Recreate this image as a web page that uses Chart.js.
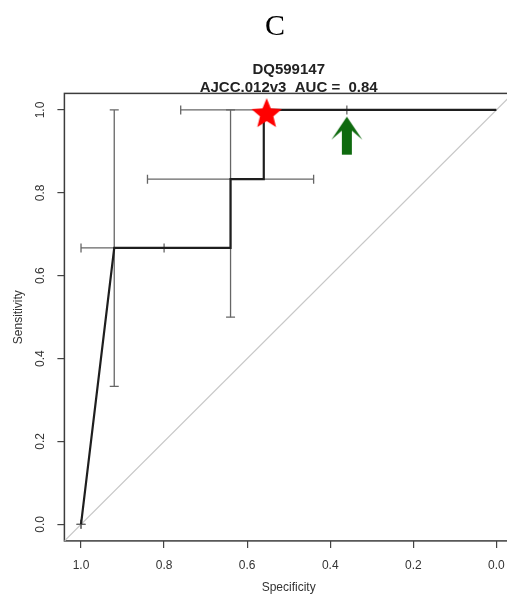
<!DOCTYPE html>
<html>
<head>
<meta charset="utf-8">
<title>DQ599147 ROC</title>
<script src="https://cdn.jsdelivr.net/npm/chart.js"></script>
<style>
  html, body { margin: 0; padding: 0; background: #fff; }
  #wrap { width: 507px; height: 600px; overflow: hidden; }
  canvas { display: block; }
</style>
</head>
<body>
<div id="wrap"><canvas id="rocChart" width="520" height="600"></canvas></div>
<script>
"use strict";

// ROC curve: specificity / sensitivity pairs
const rocSpec = [1.0, 0.92, 0.64, 0.64, 0.56, 0.56, 0.0];
const rocSens = [0.0, 0.667, 0.667, 0.833, 0.833, 1.0, 1.0];

// confidence intervals at each threshold point
const ciSpec = [1.0, 0.92, 0.64, 0.56];
const ciSens = [0.0, 0.667, 0.833, 1.0];
const seLow  = [0.0, 0.333, 0.5, 1.0];
const seHigh = [0.0, 1.0, 1.0, 1.0];
const spLow  = [1.0, 0.8, 0.44, 0.36];
const spHigh = [1.0, 1.0, 0.84, 0.76];

// markers
const bestPoint = {x: 0.553, y: 0.99};
const arrowPoint = {x: 0.36, y: 0.938};

const xTicks = [1.0, 0.8, 0.6, 0.4, 0.2, 0.0];
const yTicks = [0.0, 0.2, 0.4, 0.6, 0.8, 1.0];
const axisMin = -0.04;
const axisMax = 1.04;

const panelLabel = 'C';
const titleLines = ['DQ599147', 'AJCC.012v3  AUC =  0.84'];

const fontFamily = '"Liberation Sans", Arial, Helvetica, sans-serif';

const makeStar = (r, color) => {
  const c = document.createElement('canvas');
  const size = Math.ceil(r * 2) + 2;
  c.width = size;
  c.height = size;
  const g = c.getContext('2d');
  g.translate(size / 2, size / 2);
  g.beginPath();
  for (let i = 0; i < 10; i++) {
    const rad = i % 2 === 0 ? r : r * 0.44;
    const a = -Math.PI / 2 + i * Math.PI / 5;
    g.lineTo(rad * Math.cos(a), rad * Math.sin(a));
  }
  g.closePath();
  g.fillStyle = color;
  g.fill();
  return c;
};

const makeArrow = (color) => {
  const c = document.createElement('canvas');
  c.width = 32;
  c.height = 40;
  const g = c.getContext('2d');
  g.beginPath();
  g.moveTo(16, 1);
  g.lineTo(31.5, 24);
  g.lineTo(21, 15);
  g.lineTo(21, 39);
  g.lineTo(11, 39);
  g.lineTo(11, 15);
  g.lineTo(0.5, 24);
  g.closePath();
  g.fillStyle = color;
  g.fill();
  return c;
};

// box around plot region + titles
const frameAndTitles = {
  id: 'frameAndTitles',
  beforeDatasetsDraw(chart) {
    const {ctx, chartArea: a} = chart;
    ctx.save();
    ctx.strokeStyle = '#3c3c3c';
    ctx.lineWidth = 1.5;
    ctx.strokeRect(a.left, a.top, a.right - a.left, a.bottom - a.top);
    ctx.restore();
  },
  afterDraw(chart) {
    const {ctx, chartArea: a} = chart;
    const mid = (a.left + a.right) / 2;
    ctx.save();
    ctx.textAlign = 'center';
    ctx.textBaseline = 'alphabetic';
    ctx.fillStyle = '#000';
    ctx.font = '30px "Liberation Serif", "Times New Roman", serif';
    ctx.fillText(panelLabel, 275, 35);
    ctx.fillStyle = '#222';
    ctx.font = 'bold 15px ' + fontFamily;
    ctx.fillText(titleLines[0], mid, 74);
    ctx.fillText(titleLines[1], mid, 91.5);
    ctx.restore();
  }
};

const lineSet = (data, color, width, extra) => Object.assign({
  data: data,
  showLine: true,
  borderColor: color,
  borderWidth: width,
  pointRadius: 0,
  fill: false
}, extra || {});

const datasets = [];

datasets.push({
  data: [bestPoint],
  pointStyle: makeStar(16, '#ff0000'),
  pointRadius: 16,
  order: 0
});
datasets.push({
  data: [arrowPoint],
  pointStyle: makeArrow('#0e6a0e'),
  pointRadius: 16,
  order: 0
});

datasets.push(lineSet(rocSpec.map((s, i) => ({x: s, y: rocSens[i]})), '#1e1e1e', 2.2, {order: 2}));

ciSpec.forEach((s, i) => {
  const barStyle = {
    pointStyle: 'line',
    pointRadius: 4.5,
    pointBorderColor: '#666',
    pointBorderWidth: 1.3,
    order: 3
  };
  datasets.push(lineSet([{x: s, y: seLow[i]}, {x: s, y: seHigh[i]}], '#666', 1.3,
    Object.assign({}, barStyle, {pointRotation: 0})));
  datasets.push(lineSet([{x: spLow[i], y: ciSens[i]}, {x: spHigh[i], y: ciSens[i]}], '#666', 1.3,
    Object.assign({}, barStyle, {pointRotation: 90})));
});

// chance diagonal across the whole plot region
datasets.push(lineSet([{x: axisMax, y: 1 - axisMax}, {x: axisMin, y: 1 - axisMin}], '#c8c8c8', 1.3, {order: 5}));

const tickFont = {family: fontFamily, size: 12};

new Chart(document.getElementById('rocChart'), {
  type: 'scatter',
  data: {datasets: datasets},
  options: {
    responsive: false,
    animation: false,
    events: [],
    layout: {autoPadding: false, padding: {left: 0, right: 7, top: 93.4, bottom: 0}},
    plugins: {legend: {display: false}, tooltip: {enabled: false}, title: {display: false}},
    scales: {
      x: {
        type: 'linear',
        reverse: true,
        min: axisMin,
        max: axisMax,
        afterBuildTicks: (scale) => { scale.ticks = xTicks.map(v => ({value: v})); },
        afterFit: (scale) => {
          scale.height = 59.1;
          scale.paddingLeft = 0;
          scale.paddingRight = 0;
        },
        ticks: {
          font: tickFont,
          color: '#333',
          padding: 11,
          maxRotation: 0,
          callback: (v) => v.toFixed(1)
        },
        grid: {drawOnChartArea: false, drawTicks: true, tickLength: 7, color: '#444', lineWidth: 1.2},
        border: {display: false},
        title: {display: true, text: 'Specificity', font: tickFont, color: '#333', padding: {top: 0, bottom: 4.8}}
      },
      y: {
        type: 'linear',
        min: axisMin,
        max: axisMax,
        afterBuildTicks: (scale) => { scale.ticks = yTicks.map(v => ({value: v})); },
        afterFit: (scale) => {
          scale.width = 64.4;
          scale.paddingTop = 0;
          scale.paddingBottom = 0;
        },
        ticks: {
          font: tickFont,
          color: '#333',
          padding: 8.4,
          minRotation: 90,
          maxRotation: 90,
          crossAlign: 'center',
          callback: (v) => v.toFixed(1)
        },
        grid: {drawOnChartArea: false, drawTicks: true, tickLength: 7, color: '#444', lineWidth: 1.2},
        border: {display: false},
        title: {display: true, text: 'Sensitivity', font: tickFont, color: '#333', padding: {top: 11, bottom: 11}}
      }
    }
  },
  plugins: [frameAndTitles]
});
</script>
</body>
</html>
